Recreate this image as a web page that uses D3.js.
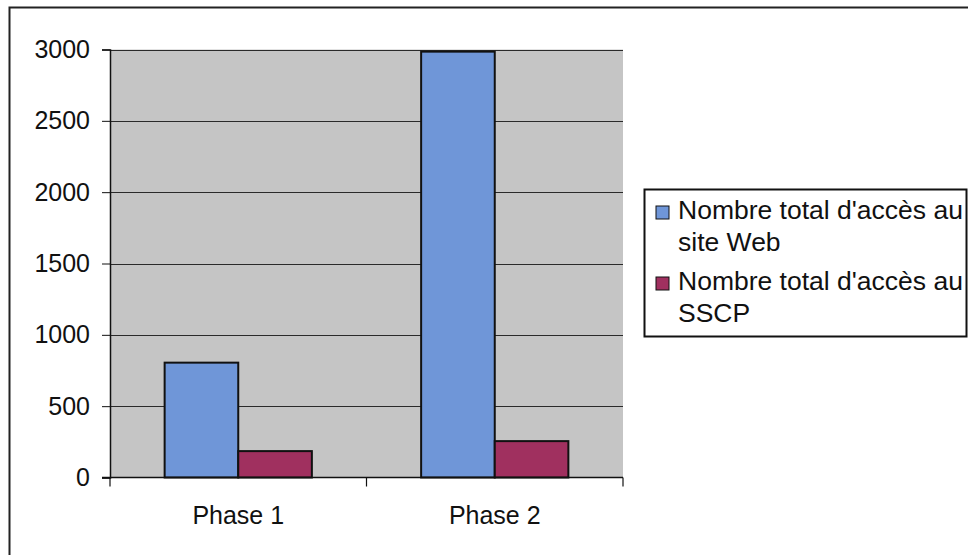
<!DOCTYPE html>
<html>
<head>
<meta charset="utf-8">
<script src="https://cdn.jsdelivr.net/npm/d3@7"></script>
<style>
  html, body { margin: 0; padding: 0; background: #fff; }
  svg { display: block; font-family: "Liberation Sans", Arial, sans-serif; }
</style>
</head>
<body>
<svg id="chart" width="968" height="555"></svg>
<script>
// Access counts per phase
const categories = ["Phase 1", "Phase 2"];
const seriesNames = ["Nombre total d'accès au site Web", "Nombre total d'accès au SSCP"];
const seriesLegendLines = [["Nombre total d'accès au", "site Web"], ["Nombre total d'accès au", "SSCP"]];
const webValues = [805, 2985];
const sscpValues = [185, 255];
const yTicks = [0, 500, 1000, 1500, 2000, 2500, 3000];
const seriesColors = ["#6f96d8", "#a0305f"];

const svg = d3.select("#chart");

// Outer chart frame (extends past the right/bottom edge)
svg.append("rect")
  .attr("x", 9.5).attr("y", 7.5)
  .attr("width", 1000).attr("height", 600)
  .attr("fill", "none").attr("stroke", "#222").attr("stroke-width", 2);

const plot = { left: 110, right: 623, top: 49.5, bottom: 477.5 };

const x0 = d3.scaleBand().domain(categories)
  .range([plot.left, plot.right]).paddingInner(0.426).paddingOuter(0.213);
const x1 = d3.scaleBand().domain(seriesNames).range([0, x0.bandwidth()]);
const y = d3.scaleLinear().domain([0, 3000]).range([plot.bottom, plot.top]);

// Plot background
svg.append("rect")
  .attr("x", plot.left).attr("y", plot.top)
  .attr("width", plot.right - plot.left).attr("height", plot.bottom - plot.top)
  .attr("fill", "#c5c5c5");

// Horizontal gridlines
svg.append("g").selectAll("line").data(yTicks.filter(d => d > 0)).join("line")
  .attr("x1", plot.left).attr("x2", plot.right)
  .attr("y1", d => Math.round(y(d)) + 0.5).attr("y2", d => Math.round(y(d)) + 0.5)
  .attr("stroke", "#2a2a2a").attr("stroke-width", 1);

// Bars
const rows = categories.map((c, i) => ({ cat: c, vals: [webValues[i], sscpValues[i]] }));
svg.append("g").selectAll("g").data(rows).join("g")
  .attr("transform", d => `translate(${x0(d.cat)},0)`)
  .selectAll("rect").data(d => d.vals.map((v, j) => ({ v, s: seriesNames[j], j })))
  .join("rect")
  .attr("x", d => x1(d.s))
  .attr("y", d => y(d.v))
  .attr("width", x1.bandwidth())
  .attr("height", d => y(0) - y(d.v))
  .attr("fill", d => seriesColors[d.j])
  .attr("stroke", "#111").attr("stroke-width", 2);

// Y axis
const yAxis = svg.append("g")
  .attr("transform", `translate(${plot.left},0)`)
  .call(d3.axisLeft(y).tickValues(yTicks).tickSize(8).tickPadding(12).tickFormat(d3.format("d")));
yAxis.select(".domain").attr("stroke", "#111").attr("stroke-width", 1.5);
yAxis.selectAll(".tick line").attr("stroke", "#111");
yAxis.selectAll("text").attr("font-size", 25).attr("fill", "#111")
  .attr("font-family", "'Liberation Sans', Arial, sans-serif");

// X axis with tick marks at category boundaries
const xAxis = svg.append("g").attr("transform", `translate(0,${plot.bottom})`);
xAxis.append("line")
  .attr("x1", plot.left - 8).attr("x2", plot.right)
  .attr("stroke", "#111").attr("stroke-width", 1.5);
const bounds = [plot.left, (x0(categories[0]) + x0.bandwidth() + x0(categories[1])) / 2, plot.right];
xAxis.selectAll("line.tk").data(bounds).join("line").attr("class", "tk")
  .attr("x1", d => d).attr("x2", d => d).attr("y1", 0).attr("y2", 9)
  .attr("stroke", "#111").attr("stroke-width", 1.2);
xAxis.selectAll("text").data(categories).join("text")
  .attr("x", d => x0(d) + x0.bandwidth() / 2)
  .attr("y", 46)
  .attr("text-anchor", "middle")
  .attr("font-size", 25).attr("fill", "#111")
  .text(d => d);

// Legend
const legend = svg.append("g");
legend.append("rect")
  .attr("x", 644.5).attr("y", 189.5).attr("width", 322).attr("height", 147)
  .attr("fill", "#fff").attr("stroke", "#111").attr("stroke-width", 2);
const entryTop = [219, 290];
seriesNames.forEach((name, i) => {
  legend.append("rect")
    .attr("x", 656).attr("y", entryTop[i] - 13).attr("width", 13).attr("height", 13)
    .attr("fill", seriesColors[i]).attr("stroke", "#111").attr("stroke-width", 1);
  const t = legend.append("text")
    .attr("x", 678).attr("y", entryTop[i])
    .attr("font-size", 26.5).attr("fill", "#111");
  seriesLegendLines[i].forEach((ln, k) => {
    t.append("tspan").attr("x", 678).attr("dy", k === 0 ? 0 : 31.5).text(ln);
  });
});
</script>
</body>
</html>
